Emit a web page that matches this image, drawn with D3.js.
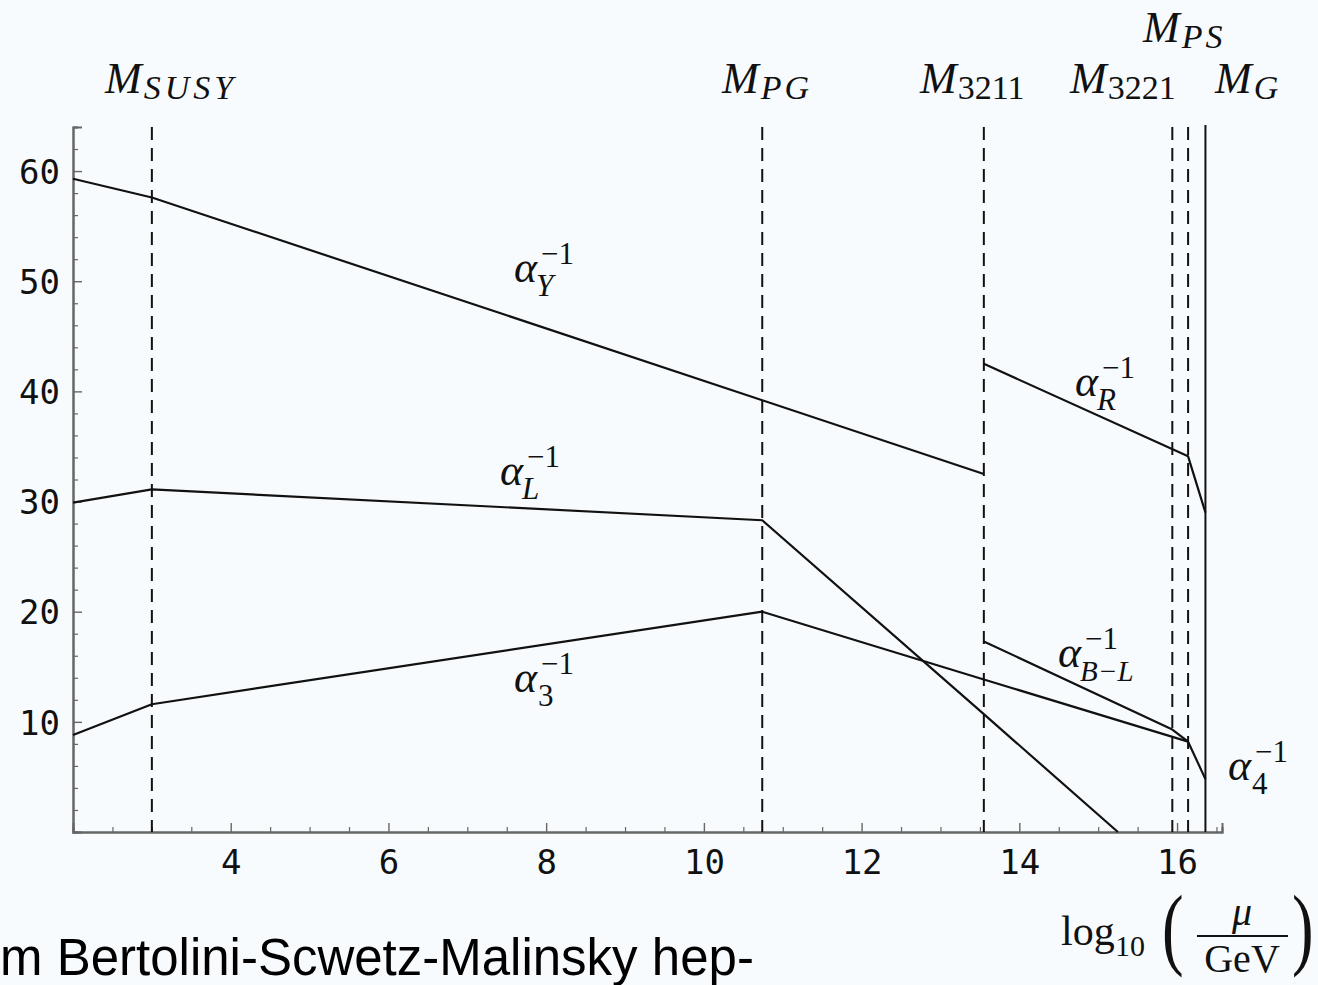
<!DOCTYPE html>
<html>
<head>
<meta charset="utf-8">
<script src="https://cdn.jsdelivr.net/npm/d3@7"></script>
<style>
  html, body { margin: 0; padding: 0; background: #f8fbfd; }
  svg { display: block; }
</style>
</head>
<body>
<svg id="chart" width="1318" height="985"></svg>
<script>
// ---------------- DATA ----------------
const xTickValues = [4, 6, 8, 10, 12, 14, 16];
const yTickValues = [10, 20, 30, 40, 50, 60];
const xDomain = [2, 16.57];
const yDomain = [0, 64];

// threshold scales (log10 of mass / GeV)
const thresholdNames = ["SUSY", "PG", "3211", "3221", "PS"];
const thresholdValues = [3.0, 10.74, 13.55, 15.94, 16.14];
const unificationValue = 16.36; // M_G (solid line)

// inverse gauge couplings, [log10(mu), alpha^-1]
const alphaY   = [[2, 59.3], [3.0, 57.6], [10.74, 39.2], [13.55, 32.5]];
const alphaL   = [[2, 29.9], [3.0, 31.1], [10.74, 28.3], [13.55, 10.7], [15.25, 0]];
const alpha3   = [[2, 8.8], [3.0, 11.6], [10.74, 20.0], [13.55, 13.85], [16.14, 8.2]];
const alphaR   = [[13.55, 42.5], [16.14, 34.1], [16.36, 29.0]];
const alphaBL  = [[13.55, 17.3], [15.94, 9.3], [16.14, 8.2]];
const alpha4   = [[16.14, 8.2], [16.36, 4.8]];

// ---------------- CHART ----------------
const svg = d3.select("#chart");
const x = d3.scaleLinear().domain(xDomain).range([73, 1222]);
const y = d3.scaleLinear().domain(yDomain).range([832, 127]);

const axisColor = "#666";
const serif = "'Liberation Serif', 'DejaVu Serif', serif";
const mono = "'DejaVu Sans Mono', monospace";

// minor ticks
const xMinor = d3.range(2.5, 16.6, 0.5).filter(v => Math.abs(v % 2) > 1e-6);
const yMinor = d3.range(2, 64.1, 2).filter(v => v % 10 !== 0);

// X axis
const gx = svg.append("g").attr("transform", `translate(0,${y(0)})`);
gx.call(d3.axisBottom(x).tickValues(xMinor).tickSize(-5).tickFormat(""));
gx.selectAll(".tick line").attr("stroke", axisColor).attr("stroke-width", 1.2);
const gx2 = svg.append("g").attr("transform", `translate(0,${y(0)})`);
gx2.call(d3.axisBottom(x).tickValues(xTickValues).tickSize(-9).tickFormat(d3.format("d")));
gx2.selectAll(".tick line").attr("stroke", axisColor).attr("stroke-width", 1.4);
gx2.selectAll(".tick text").attr("font-family", mono).attr("font-size", 34).attr("fill", "#111")
   .attr("dy", null).attr("y", 42);
[gx, gx2].forEach(g => g.select(".domain").attr("stroke", axisColor).attr("stroke-width", 2));

// Y axis
const gy = svg.append("g").attr("transform", `translate(${x(2)},0)`);
gy.call(d3.axisLeft(y).tickValues(yMinor).tickSize(-5).tickFormat(""));
gy.selectAll(".tick line").attr("stroke", axisColor).attr("stroke-width", 1.2);
const gy2 = svg.append("g").attr("transform", `translate(${x(2)},0)`);
gy2.call(d3.axisLeft(y).tickValues(yTickValues).tickSize(-9).tickPadding(13).tickFormat(d3.format("d")));
gy2.selectAll(".tick line").attr("stroke", axisColor).attr("stroke-width", 1.4);
gy2.selectAll(".tick text").attr("font-family", mono).attr("font-size", 34).attr("fill", "#111")
   .attr("dy", "0.36em");
[gy, gy2].forEach(g => g.select(".domain").attr("stroke", axisColor).attr("stroke-width", 2));

// threshold lines
svg.append("g").selectAll("line").data(thresholdValues).join("line")
  .attr("x1", d => x(d)).attr("x2", d => x(d))
  .attr("y1", y(yDomain[1])).attr("y2", y(0))
  .attr("stroke", "#111").attr("stroke-width", 2)
  .attr("stroke-dasharray", "13,8");
svg.append("line")
  .attr("x1", x(unificationValue)).attr("x2", x(unificationValue))
  .attr("y1", y(yDomain[1]) - 2).attr("y2", y(0))
  .attr("stroke", "#111").attr("stroke-width", 2);

// coupling curves
const line = d3.line().x(d => x(d[0])).y(d => y(d[1]));
svg.append("g").selectAll("path")
  .data([alphaY, alphaL, alpha3, alphaR, alphaBL, alpha4]).join("path")
  .attr("d", line).attr("fill", "none")
  .attr("stroke", "#111").attr("stroke-width", 2.2).attr("stroke-linejoin", "round");

// ---------------- LABELS ----------------
function mathLabel(px, py, base, sub, sup, opt = {}) {
  const g = svg.append("g");
  const bs = opt.baseSize || 44;
  const t = g.append("text").attr("x", px).attr("y", py)
    .attr("font-family", serif).attr("font-style", "italic")
    .attr("font-size", bs).attr("fill", "#111").text(base);
  const w = t.node().getComputedTextLength();
  const xs = px + w + (opt.gap || 1);
  if (sub) {
    g.append("text").attr("x", xs + (opt.subShift || 0)).attr("y", py + (opt.subDy || 7))
      .attr("font-family", serif)
      .attr("font-style", opt.subUpright ? "normal" : "italic")
      .attr("letter-spacing", opt.ls || 0)
      .attr("font-size", opt.subSize || 32).attr("fill", "#111").text(sub);
  }
  if (sup) {
    g.append("text").attr("x", xs + 3).attr("y", py - 18)
      .attr("font-family", serif).attr("font-size", 31).attr("fill", "#111").text(sup);
  }
}

// mass scale labels
mathLabel(105, 93, "M", "SUSY", null, { subDy: 6, subSize: 34, ls: 4, gap: 2 });
mathLabel(722, 93, "M", "PG", null, { subDy: 6, subSize: 34, ls: 3, gap: 2 });
mathLabel(920, 93, "M", "3211", null, { subDy: 6, subUpright: true, subSize: 34, gap: 1 });
mathLabel(1070, 93, "M", "3221", null, { subDy: 6, subUpright: true, subSize: 34, gap: 1 });
mathLabel(1143, 42, "M", "PS", null, { subDy: 6, subSize: 34, ls: 3, gap: 2 });
mathLabel(1215, 93, "M", "G", null, { subDy: 6, subSize: 34, gap: 2 });

// coupling labels
mathLabel(514, 282, "α", "Y", "−1", { subDy: 14, subShift: -2, subSize: 31 });
mathLabel(500, 485, "α", "L", "−1", { subDy: 14, subShift: -2, subSize: 31 });
mathLabel(514, 692, "α", "3", "−1", { subDy: 14, subUpright: true, subSize: 31 });
mathLabel(1075, 396, "α", "R", "−1", { subDy: 14, subShift: -2, subSize: 31 });
mathLabel(1058, 667, "α", "B−L", "−1", { subDy: 14, subShift: -2, subSize: 29 });
mathLabel(1228, 780, "α", "4", "−1", { subDy: 14, subUpright: true, subSize: 31 });

// x-axis title: log10(mu / GeV)
const tg = svg.append("g").attr("font-family", serif).attr("fill", "#111");
tg.append("text").attr("x", 1061).attr("y", 945).attr("font-size", 42).text("log");
tg.append("text").attr("x", 1115).attr("y", 956).attr("font-size", 30).text("10");
tg.append("text").attr("x", 1162).attr("y", 958).attr("font-size", 90)
  .attr("transform", "translate(1162,0) scale(0.72,1) translate(-1162,0)").text("(");
tg.append("text").attr("x", 1242).attr("y", 925).attr("font-size", 40)
  .attr("font-style", "italic").attr("text-anchor", "middle").text("μ");
tg.append("line").attr("x1", 1197).attr("x2", 1288).attr("y1", 936).attr("y2", 936)
  .attr("stroke", "#111").attr("stroke-width", 2);
tg.append("text").attr("x", 1242).attr("y", 972).attr("font-size", 40)
  .attr("text-anchor", "middle").text("GeV");
tg.append("text").attr("x", 1292).attr("y", 958).attr("font-size", 90)
  .attr("transform", "translate(1292,0) scale(0.72,1) translate(-1292,0)").text(")");

// caption fragment at bottom
svg.append("text").attr("x", 0).attr("y", 975)
  .attr("font-family", "'Liberation Sans', Arial, sans-serif")
  .attr("font-size", 51).attr("fill", "#000")
  .text("m Bertolini-Scwetz-Malinsky hep-");
</script>
</body>
</html>
